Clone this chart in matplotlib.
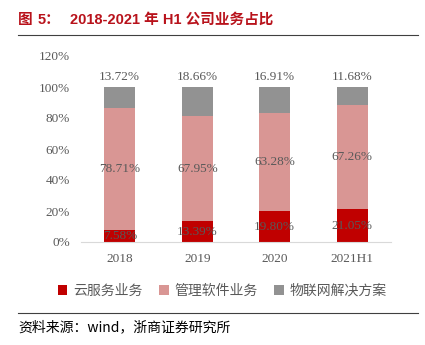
import matplotlib
matplotlib.use("Agg")
import matplotlib.pyplot as plt
import numpy as np

plt.rcParams['font.family'] = ['Liberation Serif', 'Noto Sans CJK SC']

years = ["2018", "2019", "2020", "2021H1"]
cloud = [7.58, 13.39, 19.80, 21.05]
software = [78.71, 67.95, 63.28, 67.26]
iot = [13.72, 18.66, 16.91, 11.68]
series_names = ["云服务业务", "管理软件业务", "物联网解决方案"]
colors = ["#C00000", "#D99694", "#929292"]

W, H = 425, 345
fig = plt.figure(figsize=(W / 100, H / 100), dpi=100)
ax = fig.add_axes([81 / W, 1 - 242 / H, 310 / W, (242 - 56) / H])

x = np.arange(len(years))
c = np.array(cloud) / 100
s = np.array(software) / 100
t = np.array(iot) / 100
bw = 0.4
ax.bar(x, c, bw, color=colors[0], label=series_names[0])
ax.bar(x, s, bw, bottom=c, color=colors[1], label=series_names[1])
ax.bar(x, t, bw, bottom=c + s, color=colors[2], label=series_names[2])

lc = "#595959"
fs = 9.5
for i in range(len(years)):
    ax.text(x[i], c[i] / 2, f"{cloud[i]:.2f}%", ha="center", va="center", color=lc, fontsize=fs)
    ax.text(x[i], c[i] + s[i] / 2, f"{software[i]:.2f}%", ha="center", va="center", color=lc, fontsize=fs)
    ax.text(x[i], c[i] + s[i] + t[i] + 0.025, f"{iot[i]:.2f}%", ha="center", va="bottom", color=lc, fontsize=fs)

ax.set_xlim(-0.5, len(years) - 0.5)
ax.set_ylim(0, 1.2)
ax.set_yticks(np.arange(0, 1.21, 0.2))
ax.set_yticklabels([f"{int(round(v * 100))}%" for v in np.arange(0, 1.21, 0.2)])
ax.set_xticks(x)
ax.set_xticklabels(years)
ax.tick_params(length=0, colors=lc, labelsize=fs)
ax.tick_params(axis="x", pad=8)
ax.tick_params(axis="y", pad=8)
for sp in ["top", "right", "left"]:
    ax.spines[sp].set_visible(False)
ax.spines["bottom"].set_color("#D9D9D9")

fig.legend(loc="center", bbox_to_anchor=(222 / W, 1 - 291 / H), ncol=3, frameon=False,
           handlelength=0.7, handleheight=0.7, handletextpad=0.4, columnspacing=1.2,
           prop={"family": "Noto Sans CJK SC", "size": 10}, labelcolor=lc)

tfont = dict(color="#B8121B", fontsize=10.5, fontweight="bold",
             family=["Liberation Sans", "Noto Sans CJK SC"], va="center")
fig.text(18 / W, 1 - 20 / H, "图", **tfont)
fig.text(38 / W, 1 - 20 / H, "5：", **tfont)
fig.text(70 / W, 1 - 20 / H, "2018-2021 年 H1 公司业务占比", **tfont)
fig.add_artist(plt.Line2D([18 / W, 418 / W], [1 - 35 / H, 1 - 35 / H], color="#404040", lw=0.8))
fig.add_artist(plt.Line2D([18 / W, 418 / W], [1 - 313 / H, 1 - 313 / H], color="#404040", lw=0.8))
fig.text(18 / W, 1 - 327 / H, "资料来源：wind，浙商证券研究所", color="black", fontsize=10,
         family=["Noto Sans CJK SC", "Liberation Serif"], va="center")

fig.savefig("out.png", dpi=100)
